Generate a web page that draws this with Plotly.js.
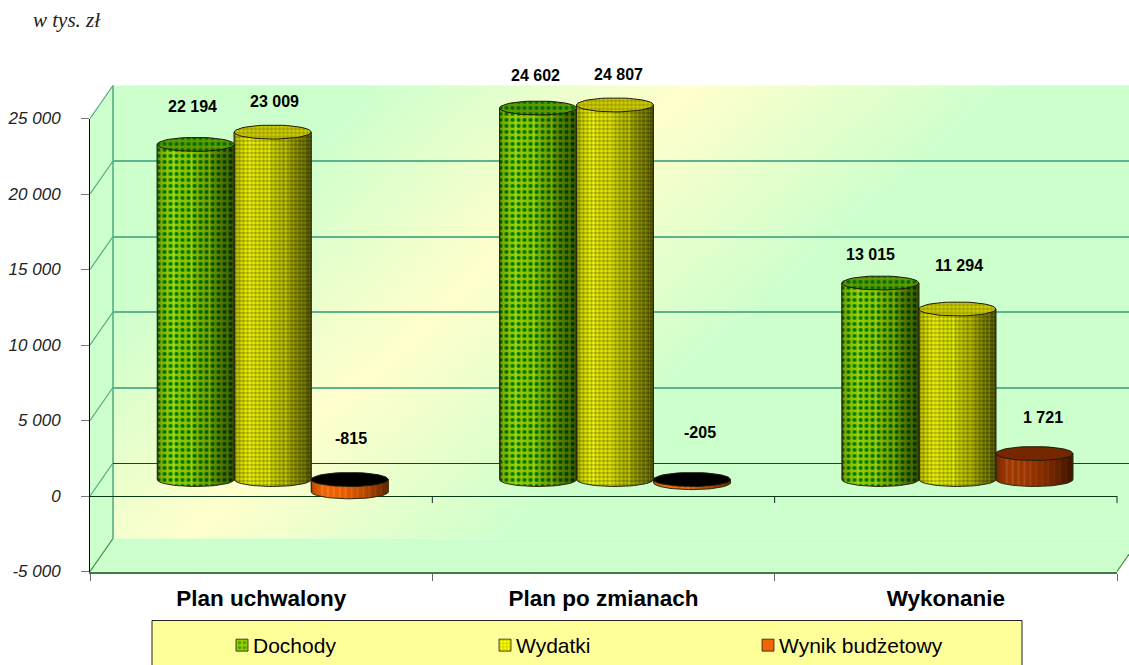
<!DOCTYPE html>
<html><head><meta charset="utf-8">
<script src="https://cdn.plot.ly/plotly-3.0.1.min.js"></script>
<style>html,body{margin:0;padding:0;background:#fff;overflow:hidden}#chart{width:1129px;height:665px}</style>
</head><body><div id="chart"></div>
<script>
// ---------- data ----------
const categories = ['Plan uchwalony', 'Plan po zmianach', 'Wykonanie'];
const dochody = [22194, 24602, 13015];
const wydatki = [23009, 24807, 11294];
const wynik = [-815, -205, 1721];
const yTickVals = [-5000, 0, 5000, 10000, 15000, 20000, 25000];
const yTickLabels = ['-5 000', '0', '5 000', '10 000', '15 000', '20 000', '25 000'];
const unitNote = 'w tys. zł';

// ---------- page geometry (pixels) ----------
const W = 1129, H = 665;
const front = {l: 90, r: 1117, t: 118.5, b: 571.5};
const depth = {x: 23, y: 33};
const pxX = x => x / W, pxY = y => 1 - y / H;
const PX_PER_CAT = (front.r - front.l) / 3;
const PX_PER_UNIT = (front.b - front.t) / 30000;
const barW = 77 / PX_PER_CAT;
const ellY = 7 / PX_PER_UNIT;
const FONT = '"Liberation Sans", Arial, sans-serif';

// ---------- cylinder appearance ----------
const shadeStops = [[0, .7], [.05, .85], [.16, 1], [.42, .95], [.68, .74], [.88, .5], [1, .34]];
const seriesStyle = [
  {name: 'Dochody', values: dochody, slot: -1, shape: '.', size: 6, solidity: .38,
   bg: '#96cc00', fg: '#007a00', topBg: '#5f9a00', topFg: '#006e00', streak: 9},
  {name: 'Wydatki', values: wydatki, slot: 0, shape: '.', size: 4, solidity: .6,
   bg: '#ffff00', fg: '#9aa400', topBg: '#d4d400', topFg: '#a0a000', streak: 9},
  {name: 'Wynik budżetowy', values: wynik, slot: 1, shape: '', size: 4, solidity: .3,
   bg: '#f06405', fg: '#f06405', bgPos: '#a03800', topBg: '#000000', topBgPos: '#752800', streak: 3}
];
// label position relative to top of each cylinder: [dx, up] in px
const labelShift = [
  [[-3, 38], [-3, 32.5], [-10, 28.5]],
  [[2, 31], [3, 30], [2, 43.5]],
  [[1, 41], [8, 47], [9, 36]]
];

function shade(t) {
  for (let i = 1; i < shadeStops.length; i++) {
    const a = shadeStops[i - 1], b = shadeStops[i];
    if (t <= b[0]) return a[1] + (b[1] - a[1]) * (t - a[0]) / (b[0] - a[0]);
  }
  return shadeStops[shadeStops.length - 1][1];
}
const fmt = v => (v < 0 ? '-' : '') + String(Math.abs(v)).replace(/\B(?=(\d{3})+$)/g, ' ');

// ---------- traces ----------
const traces = [];
const cx = (i, s) => i + s.slot * barW;
const catIdx = categories.map((_, i) => i);

// empty traces that make the back and the front axes exist
traces.push({type: 'scatter', x: [0], y: [null], xaxis: 'x', yaxis: 'y', showlegend: false, hoverinfo: 'skip'});
traces.push({type: 'scatter', x: [0], y: [null], xaxis: 'x2', yaxis: 'y2', showlegend: false, hoverinfo: 'skip'});

// the series as plain bars
seriesStyle.forEach(s => {
  traces.push({
    type: 'bar', name: s.name, xaxis: 'x3', yaxis: 'y3',
    x: catIdx, y: s.values, width: barW, offset: s.slot * barW - barW / 2,
    marker: {
      color: s.values.map(v => (v < 0 || !s.bgPos) ? s.bg : s.bgPos),
      line: {color: '#222', width: .8},
      pattern: {shape: s.shape, size: s.size, solidity: s.solidity, fgcolor: s.fg, fillmode: 'overlay'}
    }
  });
});

// round body with curved lower edge, over the plain bars
function bodies(s, pick) {
  const bx_ = [], by_ = [];
  s.values.forEach((v, i) => {
    if (!pick(v)) return;
    const c = cx(i, s), bottom = Math.min(0, v), top = Math.max(0, v);
    bx_.push(c - barW / 2); by_.push(top);
    for (let a = 0; a <= 36; a++) {
      const th = Math.PI * a / 36;
      bx_.push(c - Math.cos(th) * barW / 2); by_.push(bottom - Math.sin(th) * ellY);
    }
    bx_.push(c + barW / 2); by_.push(top);
    bx_.push(c - barW / 2); by_.push(top);
    bx_.push(null); by_.push(null);
  });
  return {x: bx_, y: by_};
}
seriesStyle.forEach(s => {
  const base = {type: 'scatter', mode: 'lines', xaxis: 'x3', yaxis: 'y3', showlegend: false, hoverinfo: 'skip',
    fill: 'toself', line: {width: 0, color: 'rgba(0,0,0,0)'}};
  if (s.bgPos) {
    traces.push(Object.assign({}, base, bodies(s, v => v < 0), {fillcolor: s.bg}));
    traces.push(Object.assign({}, base, bodies(s, v => v >= 0), {fillcolor: s.bgPos}));
  } else {
    traces.push(Object.assign({}, base, bodies(s, () => true), {fillcolor: s.bg,
      fillpattern: {shape: s.shape, size: s.size, solidity: s.solidity, bgcolor: s.bg, fgcolor: s.fg}}));
  }
});

// translucent vertical strips give the round shading
const N = 39;
seriesStyle.forEach(s => {
  const sx = [], sy = [], sb = [], so = [], col = [];
  s.values.forEach((v, i) => {
    for (let k = 0; k < N; k++) {
      const t = (k + .5) / N, u = 2 * t - 1;
      const arc = ellY * Math.sqrt(1 - u * u);
      const bottom = Math.min(0, v) - arc, top = Math.max(0, v);
      const streak = (k % s.streak === s.streak - 1) && t > .08 ? 1.14 : 1;
      const f = shade(t) * streak;
      sx.push(i); sb.push(bottom); sy.push(top - bottom);
      so.push(s.slot * barW - barW / 2 + k * barW / N);
      col.push(f <= 1 ? 'rgba(0,0,0,' + (1 - f).toFixed(3) + ')' : 'rgba(255,255,255,' + (f - 1).toFixed(3) + ')');
    }
  });
  traces.push({
    type: 'bar', xaxis: 'x4', yaxis: 'y4', showlegend: false, hoverinfo: 'skip',
    x: sx, y: sy, base: sb, offset: so, width: barW / N, marker: {color: col, line: {width: 0}}
  });
});

// outlines: sides and lower arc
const ox = [], oy = [];
seriesStyle.forEach(s => s.values.forEach((v, i) => {
  const c = cx(i, s), bottom = Math.min(0, v), top = Math.max(0, v);
  ox.push(c - barW / 2); oy.push(top);
  for (let a = 0; a <= 36; a++) {
    const th = Math.PI * a / 36;
    ox.push(c - Math.cos(th) * barW / 2); oy.push(bottom - Math.sin(th) * ellY);
  }
  ox.push(c + barW / 2); oy.push(top);
  ox.push(null); oy.push(null);
}));
traces.push({type: 'scatter', mode: 'lines', xaxis: 'x4', yaxis: 'y4', x: ox, y: oy, showlegend: false,
  hoverinfo: 'skip', line: {color: '#2a2a14', width: 1}});

// top ellipses
function ellipses(s, pick) {
  const ex = [], ey = [];
  s.values.forEach((v, i) => {
    if (!pick(v)) return;
    const c = cx(i, s), top = Math.max(0, v);
    for (let a = 0; a <= 48; a++) {
      const th = 2 * Math.PI * a / 48;
      ex.push(c + Math.cos(th) * barW / 2); ey.push(top + Math.sin(th) * ellY);
    }
    ex.push(null); ey.push(null);
  });
  return {x: ex, y: ey};
}
seriesStyle.forEach(s => {
  const base = {type: 'scatter', mode: 'lines', xaxis: 'x4', yaxis: 'y4', showlegend: false, hoverinfo: 'skip',
    fill: 'toself', line: {color: '#1c1c0c', width: 1}};
  if (s.bgPos) {
    traces.push(Object.assign({}, base, ellipses(s, v => v < 0), {fillcolor: s.topBg}));
    traces.push(Object.assign({}, base, ellipses(s, v => v >= 0), {fillcolor: s.topBgPos}));
  } else {
    traces.push(Object.assign({}, base, ellipses(s, () => true), {
      fillcolor: s.topBg,
      fillpattern: {shape: s.shape, size: s.size, solidity: s.solidity, bgcolor: s.topBg, fgcolor: s.topFg}
    }));
  }
});

// ---------- value labels ----------
const annotations = [];
seriesStyle.forEach((s, si) => s.values.forEach((v, i) => {
  annotations.push({
    xref: 'x4', yref: 'y4', x: cx(i, s), y: Math.max(0, v), text: fmt(v), showarrow: false,
    xanchor: 'center', yanchor: 'middle', xshift: labelShift[si][i][0], yshift: labelShift[si][i][1],
    font: {family: FONT, size: 16, color: '#000', weight: 700}
  });
}));
annotations.push({
  xref: 'paper', yref: 'paper', x: pxX(33), y: pxY(20), xanchor: 'left', yanchor: 'middle', showarrow: false,
  borderpad: 0, xshift: -1, text: '<i>' + unitNote + '</i>', font: {family: '"Liberation Serif", serif', size: 21, color: '#222'}
});

// ---------- walls (chart frame, not data) ----------
const GRID = '#5fb28e';
const shapes = [];
const poly = (pts, fill) => ({
  type: 'path', xref: 'paper', yref: 'paper', layer: 'below', fillcolor: fill,
  line: {color: 'rgba(0,0,0,0)', width: 0},
  path: 'M' + pts.map(p => pxX(p[0]) + ',' + pxY(p[1])).join('L') + 'Z'
});
const seg = (x0, y0, x1, y1, color, width) => ({
  type: 'line', xref: 'paper', yref: 'paper', layer: 'below',
  x0: pxX(x0), y0: pxY(y0), x1: pxX(x1), y1: pxY(y1), line: {color, width}
});
const bx = front.l + depth.x, bt = front.t - depth.y, bb = front.b - depth.y;
const rightCut = front.b - (W - front.r) * depth.y / depth.x;
shapes.push(poly([[front.l, front.t], [bx, bt], [bx, bb], [front.l, front.b]], '#ccffcc'));
shapes.push(poly([[front.l, front.b], [bx, bb], [W, bb], [W, rightCut], [front.r, front.b]], '#ccffcc'));
yTickVals.forEach(v => {
  const y = front.b - (v + 5000) * PX_PER_UNIT;
  shapes.push(seg(front.l, y, bx, y - depth.y, v === -5000 ? '#3a8a3a' : '#4fa87f', 1.2));
});
shapes.push(seg(bx, bt, bx, bb, '#4fa87f', 1.5));
shapes.push(seg(front.r, front.b, W, rightCut, '#3a8a3a', 1.2));
// ticks hanging from the zero line
[1, 2, 3].forEach(k => {
  const x = front.l + k * PX_PER_CAT, y = front.b - 5000 * PX_PER_UNIT;
  shapes.push(seg(x, y, x, y + 7, '#223', 1));
});
// legend panel
shapes.push({type: 'rect', xref: 'paper', yref: 'paper', layer: 'below', x0: pxX(152), x1: pxX(1022), y0: pxY(668), y1: pxY(620.5),
  fillcolor: '#ffff99', line: {color: '#222', width: 1}});

// back wall gradient
const cv = document.createElement('canvas');
cv.width = W - bx; cv.height = bb - bt;
const g = cv.getContext('2d');
const nx = .665, ny = .747, cxg = 430 - bx, cyg = 320 - bt, half = 215;
const lg = g.createLinearGradient(cxg - nx * half, cyg - ny * half, cxg + nx * half, cyg + ny * half);
lg.addColorStop(0, '#ccffcc'); lg.addColorStop(.5, '#ffffcc'); lg.addColorStop(1, '#ccffcc');
g.fillStyle = lg; g.fillRect(0, 0, cv.width, cv.height);

// ---------- axes ----------
const hidden = {showgrid: false, zeroline: false, showticklabels: false, ticks: '', showline: false, fixedrange: true};
const xRange = [-.5, 2.5];
const headroom = 1000;   // room above 25 000 for the cylinder tops
const yRange = [-5000, 25000 + headroom];
const midX = [pxX(front.l + depth.x / 2), pxX(front.r + depth.x / 2)];
const midY = [pxY(front.b - depth.y / 2), pxY(front.t - depth.y / 2 - headroom * PX_PER_UNIT)];
const layout = {
  width: W, height: H, margin: {l: 0, r: 0, t: 0, b: 0, autoexpand: false}, paper_bgcolor: '#fff', plot_bgcolor: 'rgba(0,0,0,0)',
  barmode: 'overlay', hovermode: false, shapes, annotations,
  images: [{source: cv.toDataURL(), xref: 'paper', yref: 'paper', x: pxX(bx), y: pxY(bt),
    sizex: cv.width / W, sizey: cv.height / H, sizing: 'stretch', layer: 'below', xanchor: 'left', yanchor: 'top'}],
  // back wall
  xaxis: Object.assign({}, hidden, {domain: [pxX(bx), 1], range: [-.5, -.5 + (W - bx) / PX_PER_CAT], anchor: 'y'}),
  yaxis: {domain: [pxY(bb), pxY(bt)], range: [-5000, 25000], anchor: 'x', tickmode: 'array', tickvals: yTickVals, showticklabels: false, ticks: '',
    showgrid: true, gridcolor: GRID, gridwidth: 2, zeroline: true, zerolinecolor: '#0d4d22', zerolinewidth: 1,
    showline: false, fixedrange: true},
  // front plane: real tick labels
  xaxis2: {domain: [pxX(front.l), pxX(front.r)], range: xRange, anchor: 'y2', showgrid: false, zeroline: false,
    showline: true, linecolor: '#3a7f3f', linewidth: 2,
    tickmode: 'array', tickvals: catIdx, ticktext: categories, ticks: '', ticklabelstandoff: 5,
    tickfont: {family: FONT, size: 22.5, color: '#000', weight: 700},
    minor: {tickmode: 'array', tickvals: [-.5, .5, 1.5, 2.5], ticks: 'outside', ticklen: 7, tickcolor: '#666', tickwidth: 1},
    fixedrange: true},
  yaxis2: {domain: [pxY(front.b), pxY(front.t)], range: [-5000, 25000], anchor: 'x2', showgrid: false,
    zeroline: true, zerolinecolor: '#063a12', zerolinewidth: 1,
    showline: true, linecolor: '#000', linewidth: 1, ticks: 'outside', ticklen: 8, tickcolor: '#777', tickwidth: 1,
    tickmode: 'array', tickvals: yTickVals, ticktext: yTickLabels, ticklabelstandoff: 17,
    tickfont: {family: FONT, size: 17, color: '#222', style: 'italic'}, fixedrange: true},
  // cylinders: half way through the depth
  xaxis3: Object.assign({}, hidden, {domain: midX, range: xRange, anchor: 'y3'}),
  yaxis3: Object.assign({}, hidden, {domain: midY, range: yRange, anchor: 'x3'}),
  xaxis4: Object.assign({}, hidden, {domain: midX, range: xRange, anchor: 'y4'}),
  yaxis4: Object.assign({}, hidden, {domain: midY, range: yRange, anchor: 'x4'}),
  legend: {orientation: 'h', x: pxX(213), y: pxY(625), xanchor: 'left', yanchor: 'top', bgcolor: 'rgba(0,0,0,0)',
    borderwidth: 0, font: {family: FONT, size: 21, color: '#000'}, entrywidth: 218, entrywidthmode: 'pixels',
    itemclick: false, itemdoubleclick: false, traceorder: 'normal'}
};
Plotly.newPlot('chart', traces, layout, {displayModeBar: false, staticPlot: true, responsive: false}).then(gd => {
  // legend swatch sits right next to its text
  gd.querySelectorAll('.legendpoints').forEach(p => p.setAttribute('transform', 'translate(9,0)'));
  gd.querySelectorAll('.y2tick text').forEach(t => { t.style.fontStyle = 'italic'; });
});
</script></body></html>
